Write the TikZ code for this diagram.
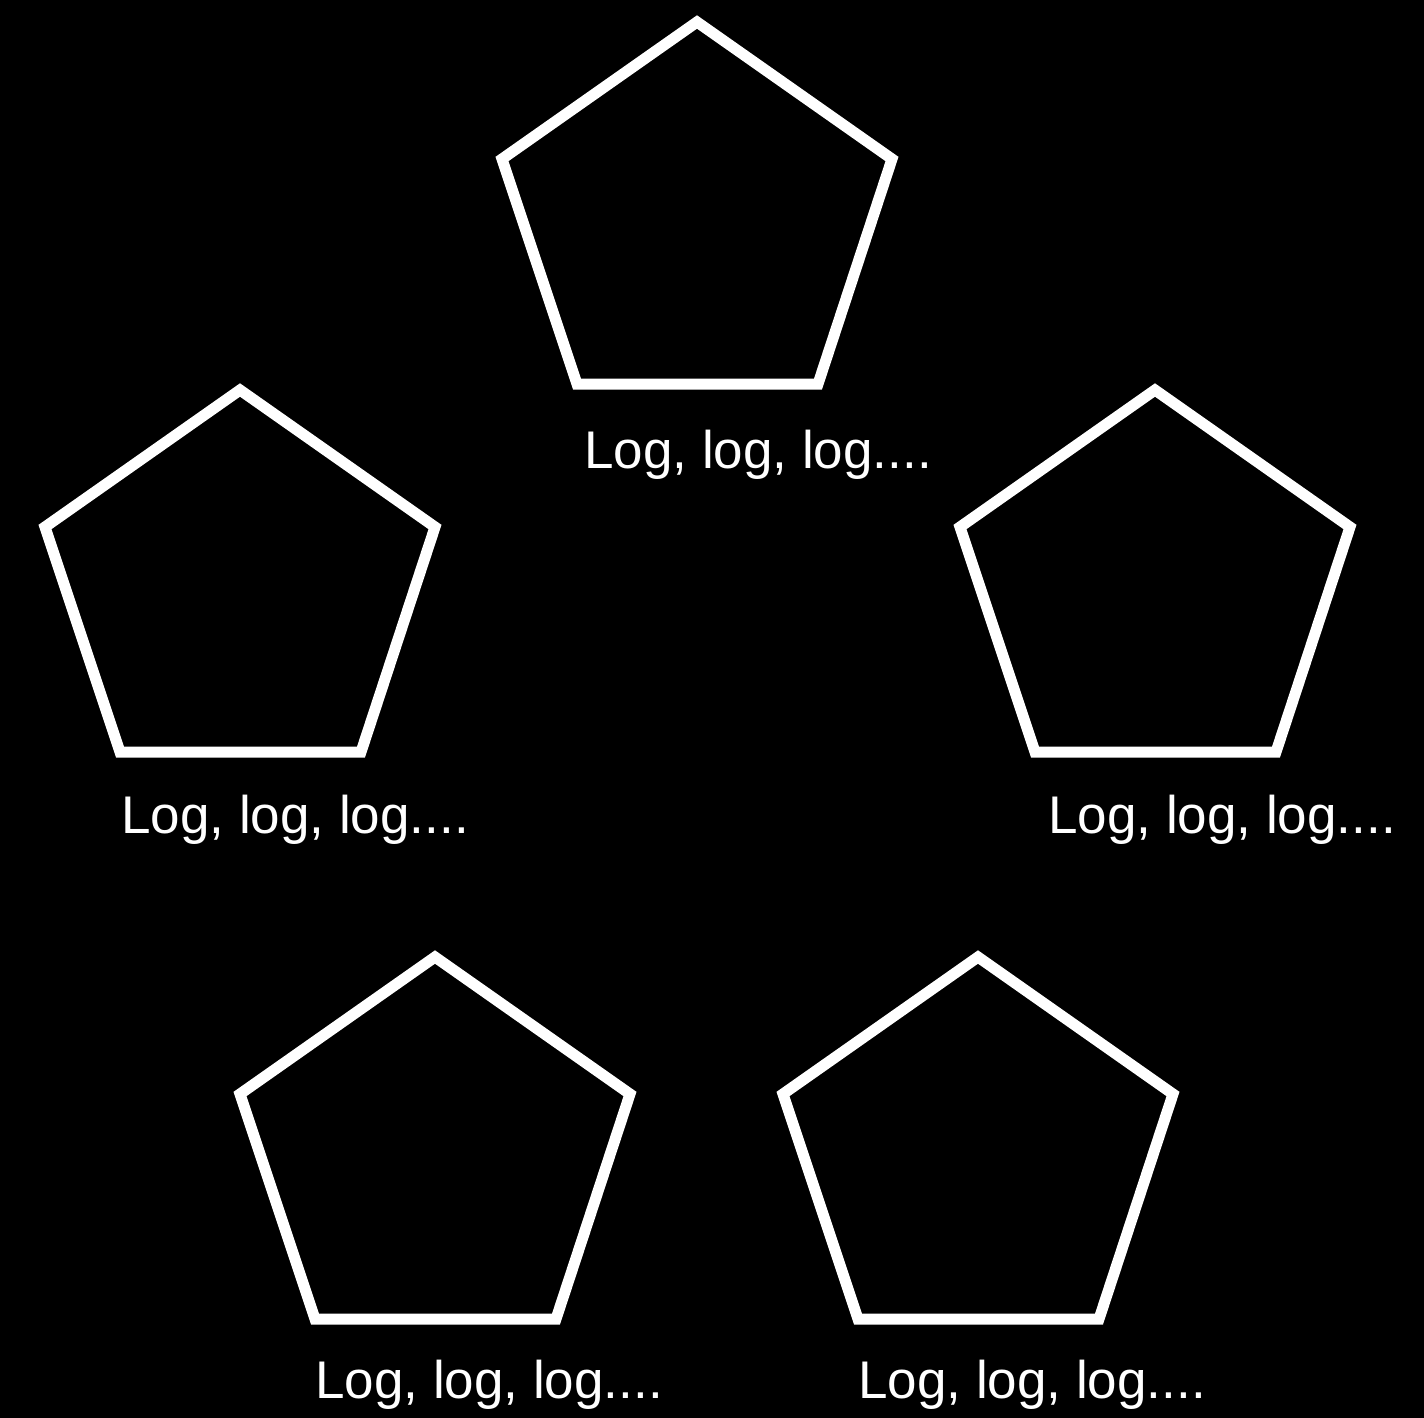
\documentclass[tikz,border=0pt]{standalone}
\usepackage{fontspec}
\setmainfont{Liberation Sans}
\begin{document}
\begin{tikzpicture}[x=1pt,y=-1pt,
  penta/.style={draw=white,line width=11pt,line join=miter},
  lbl/.style={text=white,anchor=base west,inner sep=0pt,font=\fontsize{53}{60}\selectfont}]
\fill[black] (0,0) rectangle (1424,1418);
\useasboundingbox (0,0) rectangle (1424,1418);
\newcommand{\pentagonat}[2]{%
  \draw[penta] (#1,#2) -- ++(195,137) -- ++(-74,225) -- ++(-241,0) -- ++(-75,-225) -- cycle;}
\pentagonat{697}{22}
\pentagonat{240}{390}
\pentagonat{1155}{390}
\pentagonat{435}{957}
\pentagonat{978}{957}
\node[lbl] (t) at (584,468) {Log, log, log....};
\node[lbl] (l) at (121,833) {Log, log, log....};
\node[lbl] (r) at (1048,833) {Log, log, log....};
\node[lbl] (bl) at (315,1398) {Log, log, log....};
\node[lbl] (br) at (858,1398) {Log, log, log....};
\end{tikzpicture}
\end{document}
